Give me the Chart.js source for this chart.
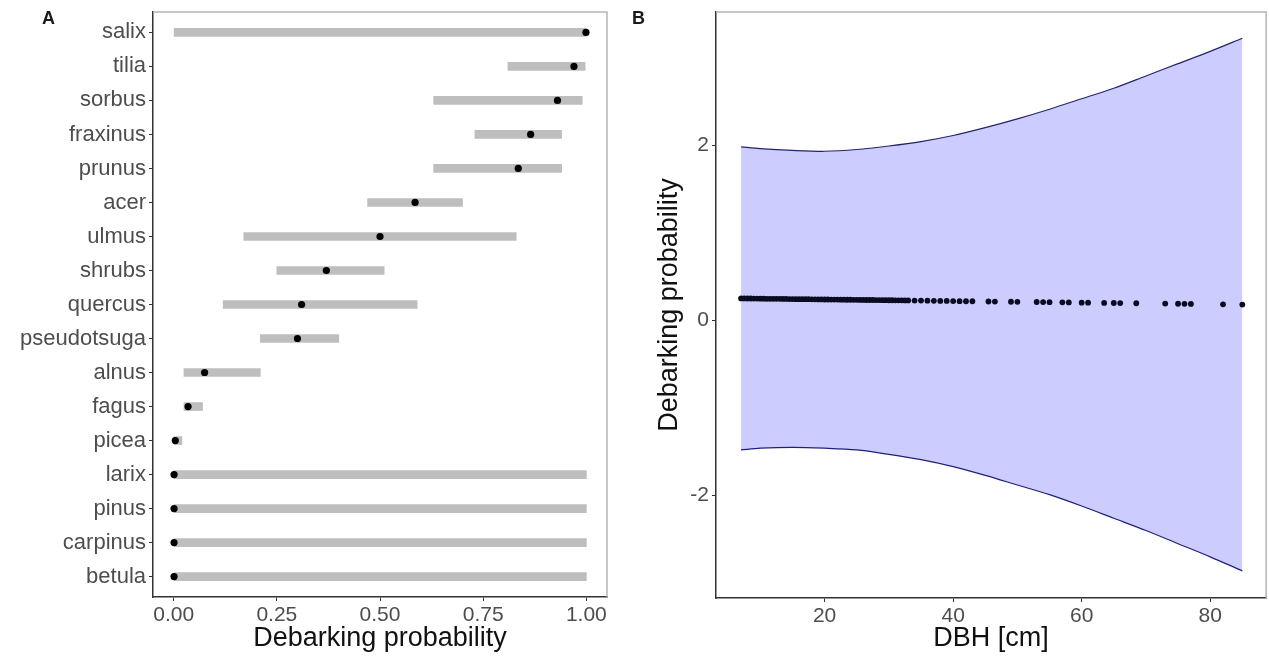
<!DOCTYPE html>
<html><head><meta charset="utf-8">
<script src="https://cdn.jsdelivr.net/npm/chart.js@4/dist/chart.umd.min.js"></script>
<style>
html,body{margin:0;padding:0;background:#fff;width:1269px;height:656px;overflow:hidden;}
#wa{position:absolute;left:0;top:0;width:620px;height:656px;}
#wb{position:absolute;left:620px;top:0;width:649px;height:656px;}
.lab{position:absolute;font:bold 18px "Liberation Sans",Arial,sans-serif;color:#1a1a1a;}
</style></head><body>
<div id="wa"><canvas id="ca"></canvas></div>
<div id="wb"><canvas id="cb"></canvas></div>
<div class="lab" style="left:42px;top:8px">A</div>
<div class="lab" style="left:632px;top:8px">B</div>
<script>
// ---- Panel A data ----
const species = ['salix','tilia','sorbus','fraxinus','prunus','acer','ulmus','shrubs','quercus','pseudotsuga','alnus','fagus','picea','larix','pinus','carpinus','betula'];
const lowA  = [0.00, 0.81, 0.63, 0.73, 0.63, 0.47, 0.17, 0.25, 0.12, 0.21, 0.025, 0.025, 0.00, 0.00, 0.00, 0.00, 0.00];
const highA = [1.00, 0.997, 0.99, 0.94, 0.94, 0.70, 0.83, 0.51, 0.59, 0.40, 0.21, 0.07, 0.02, 1.00, 1.00, 1.00, 1.00];
const meanA = [0.999, 0.97, 0.93, 0.865, 0.835, 0.585, 0.50, 0.37, 0.31, 0.30, 0.075, 0.035, 0.004, 0.001, 0.001, 0.001, 0.001];
const xTicksA = [0, 0.25, 0.5, 0.75, 1];

// ---- Panel B data ----
const dbhGrid = [7, 10, 15, 20, 25, 30, 35, 40, 45, 50, 55, 60, 65, 70, 75, 80, 85];
const upperB  = [1.98, 1.96, 1.94, 1.93, 1.95, 1.99, 2.04, 2.11, 2.20, 2.30, 2.41, 2.53, 2.65, 2.79, 2.93, 3.07, 3.22];
const lowerB  = [-1.48, -1.46, -1.45, -1.46, -1.48, -1.53, -1.59, -1.67, -1.77, -1.88, -1.99, -2.12, -2.26, -2.40, -2.55, -2.70, -2.86];
const dbhPts  = [7,7.5,8,8.5,9,9.5,10,10.5,11,11.5,12,12.5,13,13.5,14,14.5,15,15.5,16,16.5,17,17.5,18,18.5,19,19.5,20,20.5,21,21.5,22,22.5,23,23.5,24,24.5,25,25.5,26,26.5,27,27.5,28,28.5,29,29.5,30,30.5,31,31.5,32,32.5,33,
                 34,35,36,37,38,39,40,41,42,43,45.5,46.5,49,50,53,54,55,57,58,60,61,63.5,65,66,68.5,73,75,76,77,82,85];
const probPts = [0.250,0.250,0.249,0.249,0.248,0.248,0.247,0.247,0.246,0.246,0.246,0.245,0.245,0.244,0.244,0.243,0.243,0.242,0.242,0.241,0.241,0.241,0.240,0.240,0.239,0.239,0.238,0.238,0.237,0.237,0.237,0.236,0.236,0.235,0.235,0.234,0.234,0.233,0.233,0.232,0.232,0.232,0.231,0.231,0.230,0.230,0.229,0.229,0.228,0.228,0.228,0.227,0.227,
                 0.226,0.225,0.224,0.223,0.222,0.221,0.220,0.219,0.218,0.218,0.215,0.214,0.212,0.211,0.209,0.208,0.207,0.205,0.204,0.202,0.201,0.199,0.198,0.197,0.195,0.191,0.189,0.188,0.187,0.183,0.180];
const yTicksB = [-2, 0, 2];
const xTicksB = [20, 40, 60, 80];

const FONT = '"Liberation Sans", Arial, sans-serif';
const TICKC = '#4d4d4d';
const AXISC = '#333333';

const frame = {
  id: 'frame',
  afterDatasetsDraw(chart) {
    const {ctx, chartArea: a} = chart;
    ctx.save();
    ctx.strokeStyle = '#b5b5b5';
    ctx.lineWidth = 1.5;
    ctx.beginPath();
    ctx.moveTo(a.left, a.top);
    ctx.lineTo(a.right, a.top);
    ctx.lineTo(a.right, a.bottom);
    ctx.stroke();
    ctx.restore();
  }
};

function axisGrid() {
  return {drawOnChartArea: false, drawTicks: true, tickLength: 4, color: AXISC, offset: false};
}
function fixSize(prop, val) {
  return s => {
    s[prop] = val;
    s.paddingTop = 0; s.paddingBottom = 0; s.paddingLeft = 0; s.paddingRight = 0;
  };
}

new Chart(document.getElementById('ca'), {
  type: 'bar',
  data: {
    datasets: [
      {type: 'bar', data: species.map((s, i) => ({x: [lowA[i], highA[i]], y: i})),
       backgroundColor: '#bebebe', barThickness: 8, borderWidth: 0, order: 2},
      {type: 'scatter', data: species.map((s, i) => ({x: meanA[i], y: i})),
       backgroundColor: '#000', borderColor: '#000', borderWidth: 0, pointRadius: 3.6, pointHoverRadius: 3.6, order: 1}
    ]
  },
  options: {
    indexAxis: 'y', responsive: true, maintainAspectRatio: false, animation: false, events: [],
    layout: {padding: {top: 12, right: 13, left: 0, bottom: 0}},
    plugins: {legend: {display: false}, tooltip: {enabled: false}},
    scales: {
      x: {type: 'linear', min: -0.05, max: 1.05, offset: false,
          afterBuildTicks: s => { s.ticks = xTicksA.map(v => ({value: v})); },
          afterFit: fixSize('height', 59),
          ticks: {font: {family: FONT, size: 21}, color: TICKC, padding: 2, maxRotation: 0, callback: v => Number(v).toFixed(2)},
          grid: axisGrid(),
          border: {display: true, color: AXISC, width: 1.5},
          title: {display: true, text: 'Debarking probability', font: {family: FONT, size: 27}, color: '#111', padding: {top: 0, bottom: 1}}},
      y: {type: 'linear', reverse: true, min: -0.6, max: 16.6, offset: false,
          afterBuildTicks: s => { s.ticks = species.map((_, i) => ({value: i})); },
          afterFit: fixSize('width', 153),
          ticks: {font: {family: FONT, size: 22}, color: TICKC, padding: 3, autoSkip: false, callback: v => species[v]},
          grid: axisGrid(),
          border: {display: true, color: AXISC, width: 1.5}}
    }
  },
  plugins: [frame]
});

new Chart(document.getElementById('cb'), {
  type: 'scatter',
  data: {
    datasets: [
      {data: dbhGrid.map((x, i) => ({x: x, y: lowerB[i]})), showLine: true, borderColor: '#23236b', borderWidth: 1.2,
       pointRadius: 0, fill: false, tension: 0.3, order: 3},
      {data: dbhGrid.map((x, i) => ({x: x, y: upperB[i]})), showLine: true, borderColor: '#23236b', borderWidth: 1.2,
       pointRadius: 0, fill: '-1', backgroundColor: 'rgba(0,0,255,0.2)', tension: 0.3, order: 2},
      {data: dbhPts.map((x, i) => ({x: x, y: probPts[i]})), pointRadius: 2.9, pointHoverRadius: 2.9,
       backgroundColor: '#0a0a20', borderWidth: 0, order: 1}
    ]
  },
  options: {
    responsive: true, maintainAspectRatio: false, animation: false, events: [],
    layout: {padding: {top: 12, right: 2, left: 0, bottom: 0}},
    plugins: {legend: {display: false}, tooltip: {enabled: false}},
    scales: {
      x: {type: 'linear', min: 3.1, max: 88.7,
          afterBuildTicks: s => { s.ticks = xTicksB.map(v => ({value: v})); },
          afterFit: fixSize('height', 58),
          ticks: {font: {family: FONT, size: 21}, color: TICKC, padding: 2, maxRotation: 0},
          grid: axisGrid(),
          border: {display: true, color: AXISC, width: 1.5},
          title: {display: true, text: 'DBH [cm]', font: {family: FONT, size: 27}, color: '#111', padding: {top: 0, bottom: 1}}},
      y: {type: 'linear', min: -3.17, max: 3.52,
          afterBuildTicks: s => { s.ticks = yTicksB.map(v => ({value: v})); },
          afterFit: fixSize('width', 96),
          ticks: {font: {family: FONT, size: 21}, color: TICKC, padding: 3},
          grid: axisGrid(),
          border: {display: true, color: AXISC, width: 1.5},
          title: {display: true, text: 'Debarking probability', font: {family: FONT, size: 27}, color: '#111', padding: {top: 33, bottom: 0}}}
    }
  },
  plugins: [frame]
});
</script>
</body></html>
